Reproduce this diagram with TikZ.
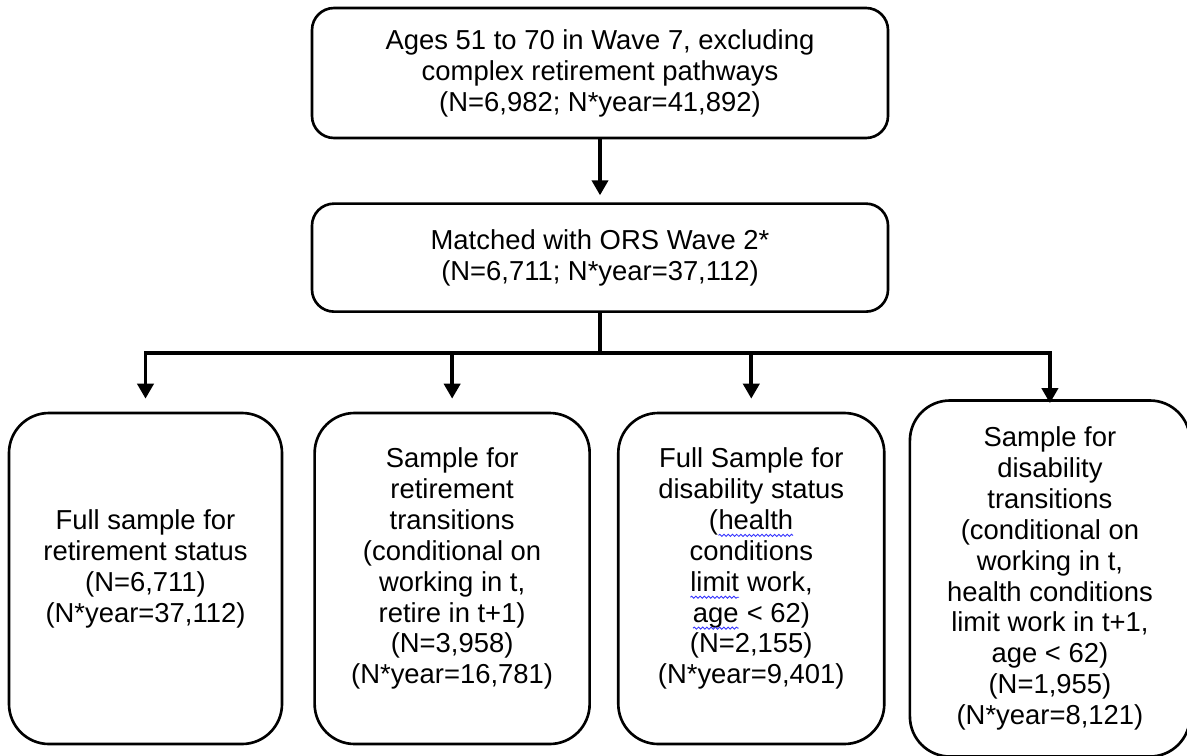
\documentclass[tikz,border=0pt]{standalone}
\usepackage{fontspec}
\setmainfont{Liberation Sans}
\usetikzlibrary{arrows.meta,positioning,decorations.pathmorphing}

\newcommand\spellwave[1]{\tikz[baseline=(w.base)]{\node[draw=none, rectangle, sharp corners, minimum width=0pt, minimum height=0pt, inner sep=0pt, outer sep=0pt, anchor=base] (w) at (0,0) {#1};
    \draw[blue!80, line width=0.5pt, sharp corners, decorate, decoration={snake, amplitude=0.6pt, segment length=2.4pt}] ([yshift=-3.5pt]w.base west) -- ([yshift=-3.5pt]w.base east);}}

\begin{document}
\begin{tikzpicture}[node distance=0.6cm,
    every node/.style={font=\fontsize{15.6}{17.6}\selectfont},
    widebox/.style={draw, rectangle, rounded corners=0.44cm, line width=1.5pt, minimum width=11.52cm, align=center},
    samplebox/.style={draw, rectangle, rounded corners=0.8cm, line width=1.5pt, minimum height=6.62cm, align=center},
    link/.style={line width=2.2pt, -{Triangle[length=0.3cm, width=0.32cm]}}]
    \useasboundingbox (0,0) rectangle (23.74,-15.1);

    \node (wave7) [widebox, minimum height=2.6cm] at (12.0,-1.46) {Ages 51 to 70 in Wave 7, excluding\\complex retirement pathways\\(N=6,982; N*year=41,892)};
    \node (ors)   [widebox, minimum height=2.16cm, below=1.26cm of wave7] {Matched with ORS Wave 2*\\(N=6,711; N*year=37,112)};

    \node (retstat) [samplebox, minimum width=5.46cm] at (2.91,-11.57) {Full sample for\\retirement status\\(N=6,711)\\(N*year=37,112)\\[-3pt]\mbox{}};
    \node (rettran) [samplebox, minimum width=5.5cm, right=0.6cm of retstat] {Sample for\\retirement\\transitions\\(conditional on\\working in t,\\retire in t+1)\\(N=3,958)\\(N*year=16,781)\\[-3pt]\mbox{}};
    \node (disstat) [samplebox, minimum width=5.32cm, right=0.52cm of rettran] {Full Sample for\\disability status\\(\spellwave{health}\\conditions\\\spellwave{limit} work,\\\spellwave{age} < 62)\\(N=2,155)\\(N*year=9,401)\\[-3pt]\mbox{}};
    \node (distran) [samplebox, minimum width=5.6cm, minimum height=7.12cm, right=0.46cm of disstat] {Sample for\\disability\\transitions\\(conditional on\\working in t,\\health conditions\\limit work in t+1,\\age < 62)\\(N=1,955)\\(N*year=8,121)};

    \draw[link, shorten >=0.14cm] (wave7) -- (ors);
    \draw[line width=2.2pt] (ors.south) -- ++(0,-0.8) coordinate (fork);
    \draw[link, shorten >=0.26cm] (fork) -| (retstat.north);
    \draw[link, shorten >=0.26cm] (fork) -| (rettran.north);
    \draw[link, shorten >=0.26cm] (fork) -| (disstat.north);
    \draw[link, shorten >=-0.08cm] (fork) -| (distran.north);
\end{tikzpicture}
\end{document}
